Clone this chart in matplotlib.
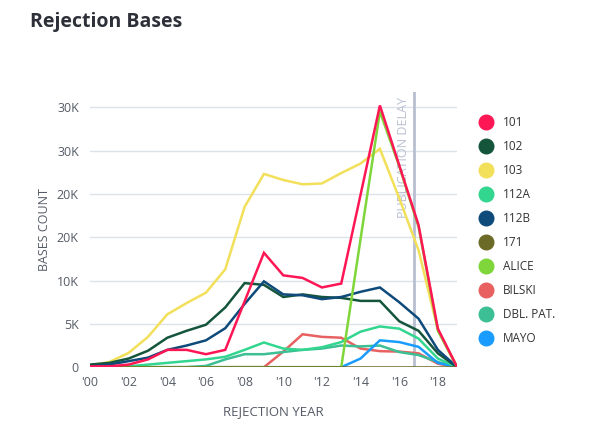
import matplotlib
matplotlib.use("Agg")
import matplotlib.pyplot as plt
from matplotlib.lines import Line2D
import numpy as np

plt.rcParams['font.family'] = ['Open Sans', 'DejaVu Sans']

years = list(range(2000, 2020))

# valores (miles)
s_101 = [0.1, 0.1, 0.3, 0.9, 2.0, 2.0, 1.5, 2.0, 7.6, 13.2, 10.6, 10.3, 9.2, 9.65, 19.9, 30.2, 23.3, 16.4, 4.45, 0]
s_102 = [0.3, 0.5, 1.0, 1.9, 3.4, 4.2, 4.9, 6.9, 9.7, 9.5, 8.1, 8.4, 8.1, 8.0, 7.65, 7.65, 5.3, 4.2, 1.6, 0]
s_103 = [0.2, 0.6, 1.65, 3.5, 6.1, 7.4, 8.6, 11.3, 18.5, 22.3, 21.6, 21.1, 21.2, 22.4, 23.5, 25.2, 19.5, 13.5, 4.3, 0]
s_112a = [0, 0.05, 0.1, 0.3, 0.5, 0.7, 0.9, 1.2, 2.0, 2.85, 2.15, 2.0, 2.3, 2.9, 4.1, 4.7, 4.45, 3.3, 1.0, 0]
s_112b = [0.1, 0.3, 0.7, 1.1, 2.0, 2.5, 3.1, 4.5, 7.3, 9.9, 8.4, 8.3, 7.85, 8.1, 8.7, 9.2, 7.5, 5.6, 2.0, 0]
s_171 = [0] * 20
s_alice = [0, 0, 0, 0, 0, 0, 0, 0, 0, 0, 0, 0, 0, 0, 14.8, 29.5, 23.2, 16.2, 4.2, 0]
s_bilski = [0, 0, 0, 0, 0, 0, 0, 0, 0, 0, 1.8, 3.8, 3.5, 3.4, 2.15, 1.85, 1.8, 1.6, 0.4, 0]
s_dbl = [0, 0, 0, 0, 0, 0, 0.15, 0.9, 1.5, 1.5, 1.75, 2.0, 2.15, 2.5, 2.4, 2.5, 1.75, 1.4, 0.6, 0]
s_mayo = [0, 0, 0, 0, 0, 0, 0, 0, 0, 0, 0, 0, 0, 0, 1.0, 3.1, 2.9, 2.35, 0.5, 0]

etiquetas = ['101', '102', '103', '112A', '112B', '171', 'ALICE', 'BILSKI', 'DBL. PAT.', 'MAYO']
series = [s_101, s_102, s_103, s_112a, s_112b, s_171, s_alice, s_bilski, s_dbl, s_mayo]
colores = ['#ff1654', '#14553b', '#f2e05a', '#33d68f', '#0e4a7a', '#6b6a26',
           '#7ed63a', '#e86060', '#3cbf94', '#1a9cff']
orden_z = [12, 6, 4, 5, 7, 11, 10, 3, 3, 3]

y_ticks = [0, 5000, 10000, 15000, 20000, 25000, 30000]
y_tick_labels = ['0', '5K', '10K', '20K', '20K', '30K', '30K']
x_ticks = list(range(2000, 2019, 2))
x_tick_labels = ["'%02d" % (y % 100) for y in x_ticks]
retraso = 2016.75

fig = plt.figure(figsize=(6, 4.32), dpi=100)
ax = fig.add_axes([0.15, 0.150, 0.612, 0.636])

for nombre, valores, color, z in zip(etiquetas, series, colores, orden_z):
    ax.plot(years, np.array(valores) * 1000, color=color, lw=1.8, zorder=z,
            solid_joinstyle='miter')

ax.set_xlim(2000, 2019)
ax.set_ylim(0, 31700)
ax.set_yticks(y_ticks)
ax.set_yticklabels(y_tick_labels)
ax.set_xticks(x_ticks)
ax.set_xticklabels(x_tick_labels)
ax.tick_params(length=0, labelsize=9, colors='#555b66', pad=6)
ax.tick_params(axis='y', pad=8)
for s in ax.spines.values():
    s.set_visible(False)
ax.grid(axis='y', color='#dde1ea', lw=1)
ax.set_axisbelow(True)

ax.axvline(retraso, color='#b8bfd0', lw=2, zorder=2)
ax.text(retraso - 0.2, 31200, 'PUBLICATION DELAY', rotation=90, ha='right', va='top',
        fontsize=9, color='#b8bfd0')

ax.set_xlabel('REJECTION YEAR', fontsize=9.5, color='#555b66', labelpad=12)
ax.set_ylabel('BASES COUNT', fontsize=9, color='#555b66', labelpad=4)

fig.text(0.05, 0.95, 'Rejection Bases', fontsize=14, fontweight='bold',
         color='#2d3038', va='center')

handles = [Line2D([], [], marker='o', ls='none', markersize=10.5, color=c) for c in colores]
fig.legend(handles, etiquetas, loc='upper left', bbox_to_anchor=(0.772, 0.756),
           frameon=False, fontsize=8.5, labelspacing=0.93, handletextpad=0.5,
           labelcolor='#333333')

fig.savefig('out.png', dpi=100)
